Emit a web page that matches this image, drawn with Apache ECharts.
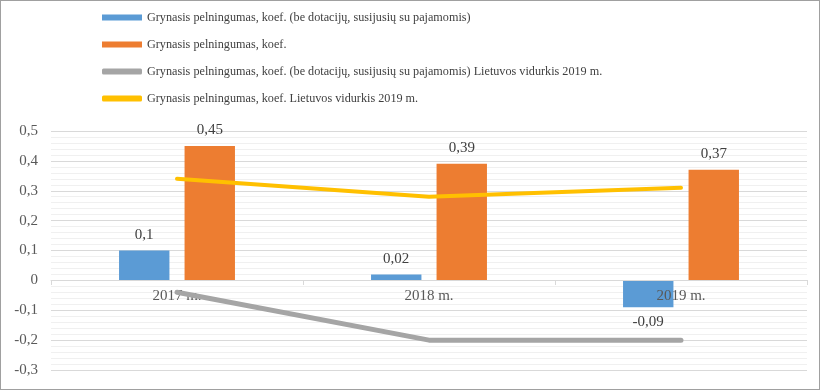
<!DOCTYPE html>
<html><head><meta charset="utf-8">
<script src="https://cdn.jsdelivr.net/npm/echarts@6/dist/echarts.min.js"></script>
<style>html,body{margin:0;padding:0;background:#fff}#c{width:818px;height:388px;border:1px solid #a0a0a0}</style>
</head><body><div id="c"></div>
<script>
const categories = ['2017 m.', '2018 m.', '2019 m.'];
const seriesNames = [
  'Grynasis pelningumas, koef. (be dotacijų, susijusių su pajamomis)',
  'Grynasis pelningumas, koef.',
  'Grynasis pelningumas, koef. (be dotacijų, susijusių su pajamomis) Lietuvos vidurkis 2019 m.',
  'Grynasis pelningumas, koef. Lietuvos vidurkis 2019 m.'
];
const profitNoSubsidy = [0.1, 0.02, -0.09];
const profit = [0.45, 0.39, 0.37];
const avgNoSubsidy = [-0.04, -0.2, -0.2];
const avgProfit = [0.34, 0.28, 0.31];

const font = 'Liberation Serif, Times New Roman, serif';
const fmt = v => (Math.round(v * 100) / 100).toString().replace('.', ',');
const barLabel = {show: true, position: 'top', distance: 8, fontFamily: font, fontSize: 15, color: '#404040', formatter: p => fmt(p.value)};
const mk = arr => arr.map(v => v < 0 ? {value: v, label: {position: 'bottom', distance: 7}} : v);

const chart = echarts.init(document.getElementById('c'));
chart.setOption({
  animation: false,
  legend: {
    orient: 'vertical', left: 96, top: 5, itemWidth: 40, itemHeight: 6, itemGap: 14,
    textStyle: {fontFamily: font, fontSize: 12.2, color: '#404040', lineHeight: 13},
    data: [
      {name: seriesNames[0], icon: 'rect'},
      {name: seriesNames[1], icon: 'rect'},
      {name: seriesNames[2], icon: 'roundRect'},
      {name: seriesNames[3], icon: 'roundRect'}
    ]
  },
  grid: {left: 50, right: 12, top: 130, bottom: 19},
  xAxis: {
    type: 'category', data: categories, z: 3,
    position: 'bottom', offset: -90,
    axisLine: {onZero: false, lineStyle: {color: '#d9d9d9'}},
    axisTick: {show: true, length: 5, lineStyle: {color: '#d9d9d9'}},
    axisLabel: {fontFamily: font, fontSize: 15, color: '#595959', margin: 9}
  },
  yAxis: {
    type: 'value', min: -0.3, max: 0.5, interval: 0.1,
    axisLine: {show: false}, axisTick: {show: false},
    axisLabel: {fontFamily: font, fontSize: 15, color: '#595959', margin: 13,
      formatter: v => Math.abs(v) < 1e-9 ? '0' : fmt(v)},
    splitLine: {lineStyle: {color: '#d9d9d9'}},
    minorTick: {show: false, splitNumber: 5},
    minorSplitLine: {show: true, lineStyle: {color: '#f0f0f0'}}
  },
  series: [
    {name: seriesNames[0], type: 'bar', data: mk(profitNoSubsidy), barWidth: '20%', barGap: '30%', z: 2,
      itemStyle: {color: '#5b9bd5'}, label: barLabel},
    {name: seriesNames[1], type: 'bar', data: mk(profit), barWidth: '20%', barGap: '30%', z: 2,
      itemStyle: {color: '#ed7d31'}, label: barLabel},
    {name: seriesNames[2], type: 'line', data: avgNoSubsidy, showSymbol: false, symbol: 'none',
      itemStyle: {color: '#a5a5a5'}, lineStyle: {color: '#a5a5a5', width: 5, cap: 'round'}, z: 5},
    {name: seriesNames[3], type: 'line', data: avgProfit, showSymbol: false, symbol: 'none',
      itemStyle: {color: '#ffc000'}, lineStyle: {color: '#ffc000', width: 4, cap: 'round'}, z: 5}
  ]
});
</script></body></html>
